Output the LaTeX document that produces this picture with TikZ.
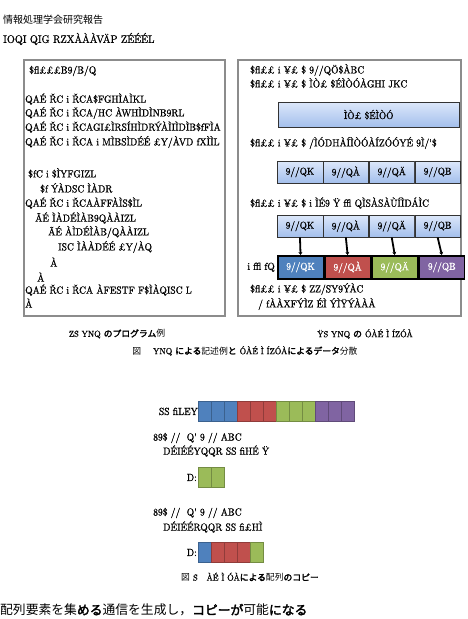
\documentclass[tikz,border=0pt]{standalone}
\usepackage{fontspec}
\usetikzlibrary{arrows.meta}
\newfontfamily\cjk{Noto Sans CJK JP}
\newfontfamily\cjkb[FakeBold=2.5]{Noto Sans CJK JP}
\newfontfamily\garb[FakeBold=1,FakeStretch=0.93]{Latin Modern Roman}
\definecolor{cblue}{HTML}{4F81BD}
\definecolor{cred}{HTML}{C0504D}
\definecolor{cgreen}{HTML}{9BBB59}
\definecolor{cpurple}{HTML}{8064A2}
\definecolor{lbtop}{HTML}{DCE7FA}
\definecolor{lbbot}{HTML}{A3BFEC}
\begin{document}
\begin{tikzpicture}[x=1pt,y=-1pt,
  code/.style={anchor=west,inner sep=0pt,font=\garb\fontsize{10.3}{11}\selectfont},
  panel/.style={draw=black!45,line width=1.2pt},
  lcell/.style={draw=black!80,anchor=north west,inner sep=0pt,minimum width=45.5pt,minimum height=22pt,
    top color=lbtop,bottom color=lbbot,font=\garb\fontsize{10}{11}\selectfont},
  ccell/.style={draw=black,line width=1.6pt,anchor=north west,inner sep=0pt,minimum width=45.5pt,minimum height=23pt,
    text=white,font=\garb\fontsize{10}{11}\selectfont},
  acell/.style={anchor=north west,inner sep=0pt,minimum width=13pt,minimum height=20pt,line width=0.9pt},
  captxt/.style={inner sep=0pt,font=\fontsize{8.8}{10}\selectfont},
  link/.style={line width=1.8pt,-{Stealth[length=3pt,width=4pt]}}]
\clip (0,0) rectangle (468,619);
%
\node (hdr1) at (3,20) [anchor=west,inner sep=0pt] {\cjk\fontsize{10}{11}\selectfont 情報処理学会研究報告};
\node (hdr2) at (3,39) [anchor=west,inner sep=0pt] {\garb\fontsize{11}{12}\selectfont IOQI QIG RZXÀÀÀVÄP ZÉÉÉL};
%
% left panel: program
\draw [panel] (24,60) rectangle (225,316);
\node (l1) at (29,71) [code] {\$fl£££B9/B/Q};
\node (l2) at (25,99) [code] {QAÉ ŘC i ŘCA\$FGHÌAÌKL};
\node (l3) at (25,113) [code] {QAÉ ŘC i ŘCA/HC ÀWHÌDÌNB9RL};
\node (l4) at (25,127) [code] {QAÉ ŘC i ŘCAGI£ÌRSÍHÌDRÝÀÌIÌDÌB\$fFÌA};
\node (l5) at (25,142) [code] {QAÉ ŘC i ŘCA i MÌBSÌDÉÉ £Y/ÀVD fXÌÌL};
\node (l6) at (28,173) [code] {\$fC i \$ÌYFGIZL};
\node (l7) at (40,188) [code] {\$f ÝÀDSC ÌÀDR};
\node (l8) at (25,203) [code] {QAÉ ŘC i ŘCAÀFFÀÌS\$ÌL};
\node (l9) at (35,218) [code] {ÃÉ ÌÀDÉÌÀB9QÀÀIZL};
\node (l10) at (48,232) [code] {ÃÉ ÀÌDÉÌÀB/QÀÀIZL};
\node (l11) at (58,247) [code] {ISC ÌÀÀDÉÉ £Y/ÀQ};
\node (l12) at (50,262) [code] {À};
\node (l13) at (37,277) [code] {À};
\node (l14) at (25,290) [code] {QAÉ ŘC i ŘCA ÀFESTF F\$ÌÀQISC L};
\node (l15) at (25,303) [code] {À};
%
% right panel: data layout
\draw [panel] (238,60) rectangle (461,316);
\node (r1) at (250,70) [code] {\$fl££ i ¥£ \$ 9//QÖ\$ÀBC};
\node (r2) at (250,83) [code] {\$fl££ i ¥£ \$ ÌÒ£ \$ÉÌÒÓÀGHI JKC};
\node (bar) at (278,102) [lcell,minimum width=181pt,minimum height=25pt] {ÌÒ£ \$ÉÌÒÓ};
\node (r3) at (250,143) [code] {\$fl££ i ¥£ \$ /ÌÓDHÀÍÌÒÓÀÍZÓÓYÉ 9Ì/'\$};
\node (ra) at (277,161) [lcell] {9//QK};
\node (rb) at (ra.north east) [lcell] {9//QÀ};
\node (rc) at (rb.north east) [lcell] {9//QÄ};
\node (rd) at (rc.north east) [lcell] {9//QB};
\node (r4) at (250,203) [code] {\$fl££ i ¥£ \$ i ÌÉ9 Ÿ ffl QÌSÀSÀÙÍÌDÁÌC};
\node (sa) at (277,215) [lcell] {9//QK};
\node (sb) at (sa.north east) [lcell] {9//QÀ};
\node (sc) at (sb.north east) [lcell] {9//QÄ};
\node (sd) at (sc.north east) [lcell] {9//QB};
\node (ca) at (277,255) [ccell,fill=cblue] {9//QK};
\node (cb) at (ca.north east) [ccell,fill=cred] {9//QÀ};
\node (cc) at (cb.north east) [ccell,fill=cgreen] {9//QÄ};
\node (cd) at (cc.north east) [ccell,fill=cpurple] {9//QB};
\node (gpu) at (ca.west) [code,anchor=east,xshift=-2pt] {i ffl fQ};
\foreach \s/\c in {sa/ca,sb/cb,sc/cc,sd/cd}
  \draw [link] (\s.south) -- (\c.north);
\node (r5) at (250,289) [code] {\$fl££ i ¥£ \$ ZZ/SY9ÝÀC};
\node (r6) at (258,304) [code] {/ fÀÀXFÝÌZ ÉÌ ÝÌŸÝÀÀÀ};
%
% captions of figure 1
\node (capl) at (117,334) [captxt] {{\garb ZS YNQ} {\cjkb のプログラム}{\cjk 例}};
\node (capr) at (365,334) [captxt] {{\garb ŸS YNQ} {\cjkb の} {\garb ÓÀÉ Ì ÍZÓÀ}};
\node (capf) at (245,351) [captxt] {{\cjk 図}\quad\ {\garb YNQ} {\cjkb による}{\cjk 記述例}{\cjkb と} {\garb ÓÀÉ Ì ÍZÓÀ}{\cjkb によるデータ}{\cjk 分散}};
%
% figure 2: copy of the array
\foreach \i/\c in {0/cblue,1/cblue,2/cblue,3/cred,4/cred,5/cred,6/cgreen,7/cgreen,8/cgreen,9/cpurple,10/cpurple,11/cpurple}
  \node (a\i) at (198+13*\i,401) [acell,fill=\c,draw=\c!75!black] {};
\node (alab) at (a0.west) [code,anchor=east] {SS fiLEY};
\node (t1) at (153,438) [code] {89\$ //\ \ Q' 9 // ABC};
\node (t2) at (163,451) [code] {DÉIÉÉYQQR SS fiHÉ Ÿ};
\foreach \i in {0,1}
  \node (d\i) at (198+13*\i,467) [acell,fill=cgreen,draw=cgreen!75!black] {};
\node (dlab) at (d0.west) [code,anchor=east,xshift=-1pt] {D:};
\node (t3) at (153,513) [code] {89\$ //\ \ Q' 9 // ABC};
\node (t4) at (163,527) [code] {DÉIÉÉRQQR SS fi£HÌ};
\foreach \i/\c in {0/cblue,1/cred,2/cred,3/cred,4/cgreen}
  \node (e\i) at (198+13*\i,542) [acell,fill=\c,draw=\c!75!black] {};
\node (elab) at (e0.west) [code,anchor=east,xshift=-1pt] {D:};
\node (capg) at (250,577) [captxt] {{\cjk 図} {\garb S}\quad {\garb ÀÉ Ì ÓÀ}{\cjkb による}{\cjk 配列}{\cjkb のコピー}};
%
\node (tail) at (0,610) [anchor=west,inner sep=0pt] {\fontsize{12.8}{13}\selectfont{\cjk 配列要素を集}{\cjkb める}{\cjk 通信を生成し，}{\cjkb コピーが}{\cjk 可能}{\cjkb になる}};
\end{tikzpicture}
\end{document}
